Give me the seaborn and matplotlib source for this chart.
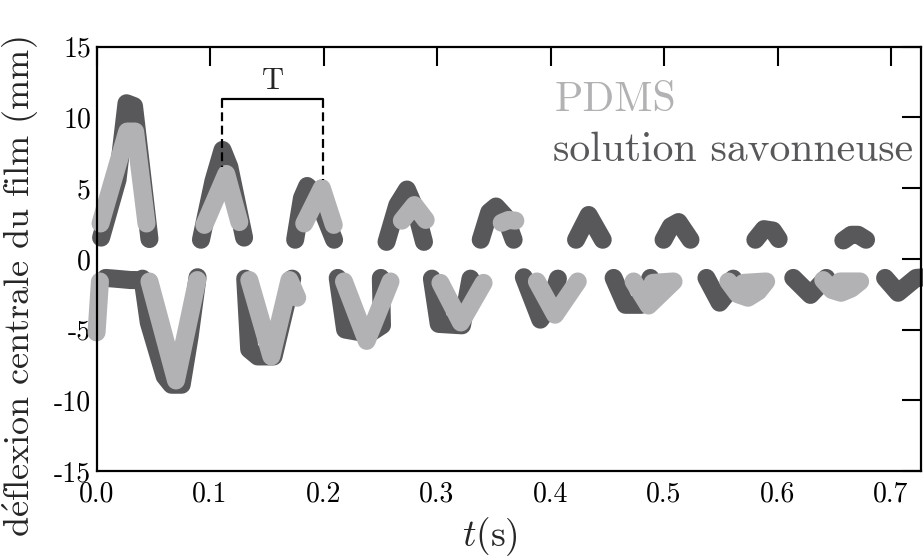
import matplotlib
matplotlib.use("Agg")
import matplotlib.pyplot as plt
import seaborn as sns
import pandas as pd

# solution savonneuse (dark trace): time (s), deflection (mm), segment id
savon_t = [0.004, 0.0185, 0.0264, 0.033, 0.040, 0.0466,
           0.008, 0.016, 0.030, 0.035,
           0.0405, 0.046, 0.060, 0.066, 0.075, 0.082, 0.089,
           0.092, 0.103, 0.111, 0.117, 0.130,
           0.131, 0.1345, 0.142, 0.156, 0.1724,
           0.175, 0.181, 0.1856, 0.193, 0.2093,
           0.2125, 0.219, 0.240, 0.2515, 0.2505,
           0.2555, 0.265, 0.2735, 0.281, 0.2885,
           0.2955, 0.3015, 0.322, 0.3295,
           0.3385, 0.346, 0.352, 0.360, 0.3675,
           0.3765, 0.391, 0.399, 0.4065,
           0.4225, 0.4336, 0.446,
           0.4556, 0.466, 0.480, 0.488,
           0.4996, 0.506, 0.5128, 0.5233,
           0.5374, 0.549, 0.556, 0.561,
           0.5805, 0.588, 0.596, 0.601,
           0.6139, 0.629, 0.643,
           0.658, 0.665, 0.671, 0.678,
           0.6948, 0.7062, 0.7221, 0.730]
savon_d = [1.5, 5.6, 11.0, 10.8, 6.0, 1.4,
           -1.35, -1.4, -1.5, -1.5,
           -1.4, -4.5, -8.3, -8.9, -8.9, -5.5, -1.3,
           1.35, 5.5, 7.7, 6.5, 1.5,
           -1.4, -6.4, -6.9, -6.9, -1.4,
           1.35, 4.3, 5.15, 4.6, 1.35,
           -1.35, -5.0, -5.3, -4.7, -1.35,
           1.2, 3.8, 4.9, 3.5, 1.2,
           -1.4, -4.6, -4.7, -1.4,
           1.35, 3.3, 3.7, 3.0, 1.35,
           -1.3, -4.3, -3.4, -1.4,
           1.35, 3.1, 1.35,
           -1.35, -3.25, -3.25, -1.35,
           1.35, 2.3, 2.6, 1.35,
           -1.35, -3.1, -2.4, -1.4,
           1.35, 2.1, 2.0, 1.4,
           -1.35, -2.55, -1.35,
           1.3, 1.7, 1.7, 1.35,
           -1.35, -2.4, -1.35, -1.3]
savon_seg = [0] * 6 + [1] * 4 + [2] * 7 + [3] * 5 + [4] * 5 + [5] * 5 + [6] * 5 \
    + [7] * 5 + [8] * 4 + [9] * 5 + [10] * 4 + [11] * 3 + [12] * 4 + [13] * 4 \
    + [14] * 4 + [15] * 4 + [16] * 3 + [17] * 4 + [18] * 4

# PDMS (light trace)
pdms_t = [0.003, 0.0,
          0.0035, 0.027, 0.034, 0.044,
          0.0466, 0.070, 0.0888,
          0.095, 0.1143, 0.1258,
          0.1346, 0.154, 0.170, 0.1768,
          0.183, 0.1985, 0.209,
          0.218, 0.238, 0.259,
          0.269, 0.280, 0.290,
          0.303, 0.321, 0.341,
          0.357, 0.363, 0.369,
          0.388, 0.404, 0.424,
          0.4732, 0.4864, 0.5084, 0.490,
          0.5567, 0.565, 0.574, 0.583, 0.590, 0.570,
          0.6403, 0.648, 0.656, 0.665, 0.6728, 0.655]
pdms_d = [-1.6, -5.2,
          2.5, 9.0, 9.0, 2.5,
          -1.6, -8.6, -1.5,
          2.4, 6.0, 2.6,
          -1.5, -6.9, -1.5, -2.75,
          2.5, 5.0, 2.4,
          -1.6, -5.8, -1.6,
          2.7, 3.8, 2.75,
          -1.7, -4.5, -1.7,
          2.55, 2.75, 2.7,
          -1.6, -3.95, -1.6,
          -1.6, -3.3, -1.6, -1.7,
          -1.6, -2.5, -2.75, -2.3, -1.6, -1.7,
          -1.5, -2.2, -2.4, -2.1, -1.6, -1.6]
pdms_seg = [0] * 2 + [1] * 4 + [2] * 3 + [3] * 3 + [4] * 4 + [5] * 3 + [6] * 3 \
    + [7] * 3 + [8] * 3 + [9] * 3 + [10] * 3 + [11] * 4 + [12] * 6 + [13] * 6

x_ticks = [0.0, 0.1, 0.2, 0.3, 0.4, 0.5, 0.6, 0.7]
y_ticks = [-15, -10, -5, 0, 5, 10, 15]

dark = "#58585b"
light = "#b2b2b5"

sns.set_style("white")
plt.rcParams["font.family"] = ["cmr10", "DejaVu Serif"]
plt.rcParams["mathtext.fontset"] = "cm"
plt.rcParams["axes.unicode_minus"] = False

savon = pd.DataFrame({"t": savon_t, "d": savon_d, "seg": savon_seg})
pdms = pd.DataFrame({"t": pdms_t, "d": pdms_d, "seg": pdms_seg})

fig = plt.figure(figsize=(9.23, 5.57), dpi=100)
ax = fig.add_axes([0.1046, 0.1544, 0.8927, 0.7618])

line_kw = dict(x="t", y="d", units="seg", estimator=None, sort=False,
               lw=13, solid_capstyle="round", solid_joinstyle="round",
               clip_on=False, legend=False)
sns.lineplot(data=savon, color=dark, ax=ax, **line_kw)
sns.lineplot(data=pdms, color=light, ax=ax, **line_kw)

ax.set_xlim(0, 0.726)
ax.set_ylim(-15, 15)
ax.set_xticks(x_ticks)
ax.set_yticks(y_ticks)
ax.set_xticklabels([f"{v:.1f}" for v in x_ticks])
ax.set_yticklabels([str(v) for v in y_ticks])
ax.tick_params(direction="in", length=14, width=1.5, top=True, right=True,
               labelsize=20, colors="black")
ax.tick_params(axis="x", pad=7)
ax.tick_params(axis="y", pad=4)
for sp in ax.spines.values():
    sp.set_linewidth(1.6)
    sp.set_color("black")

ax.set_xlabel("$t$(s)", fontsize=27)
ax.set_ylabel(r"d$\acute{\mathrm{e}}$flexion centrale du film (mm)", fontsize=26)
ax.xaxis.set_label_coords(0.478, -0.105)
ax.yaxis.set_label_coords(-0.068, 0.435)

# period bracket
ax.plot([0.1103, 0.1993], [11.3, 11.3], color="black", lw=1.6)
ax.plot([0.1103, 0.1103], [11.3, 6.5], color="black", lw=1.6, ls=(0, (4, 2)))
ax.plot([0.1993, 0.1993], [11.3, 5.6], color="black", lw=1.6, ls=(0, (4, 2)))
ax.text(0.1555, 12.0, "T", fontsize=22, ha="center", va="baseline")

ax.text(0.404, 10.46, "PDMS", color=light, fontsize=30, va="baseline")
ax.text(0.402, 6.93, "solution savonneuse", color=dark, fontsize=30,
        va="baseline")

fig.savefig("out.png", dpi=100)
